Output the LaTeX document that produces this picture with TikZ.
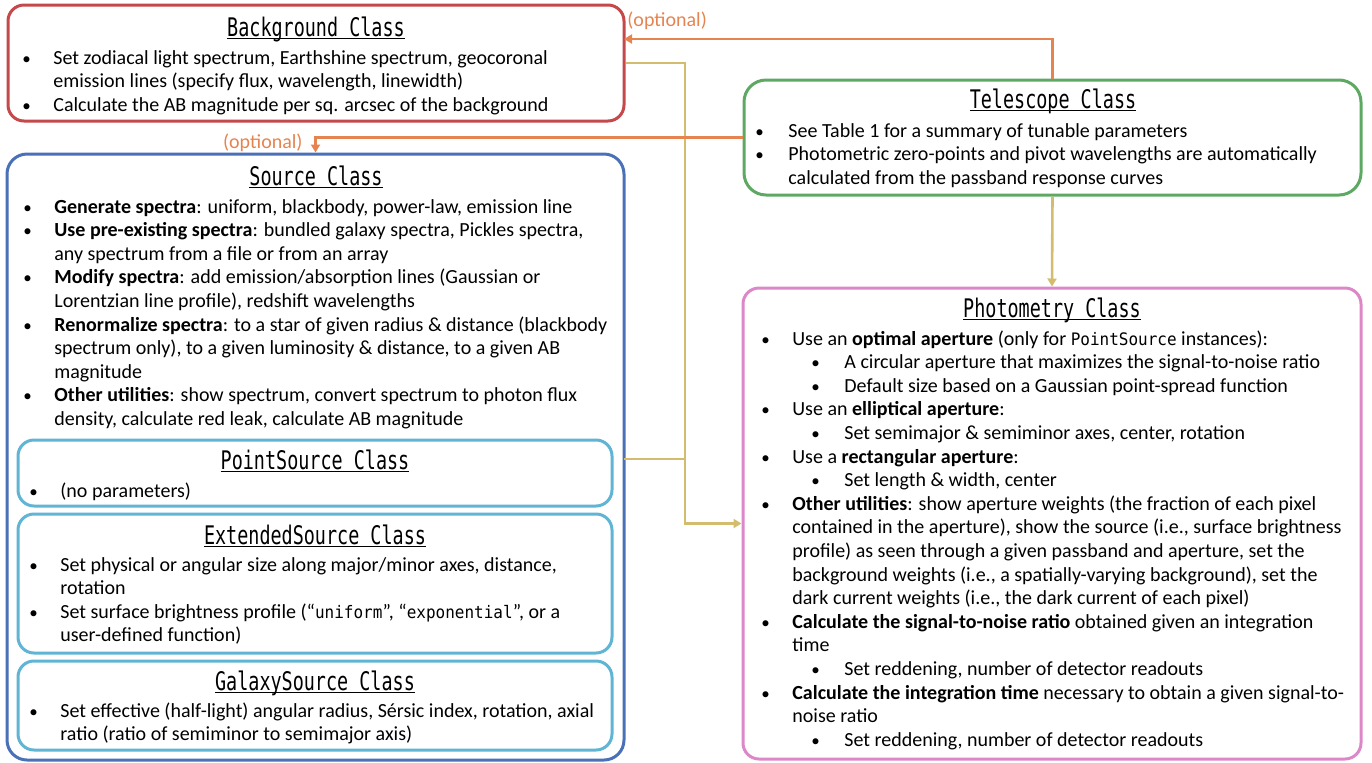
\documentclass[tikz,border=0pt]{standalone}
\usepackage{fontspec}
\usepackage{array}
\setmainfont{Carlito}
\setmonofont{DejaVu Sans Mono}[Scale=0.86,FakeStretch=0.93]
\newfontfamily\titlefont{DejaVu Sans Mono}[FakeStretch=0.72]
\usetikzlibrary{arrows.meta,fit}
\definecolor{bgred}{HTML}{C5484B}
\definecolor{telgreen}{HTML}{5DA963}
\definecolor{srcblue}{HTML}{4A70B8}
\definecolor{subblue}{HTML}{5FB5D3}
\definecolor{photpink}{HTML}{DC88C8}
\definecolor{optorange}{HTML}{E58450}
\definecolor{linkgold}{HTML}{D3BC6E}
\newcommand{\classname}[1]{\sbox0{\titlefont\fontsize{12.8}{14}\selectfont #1}\rlap{\rule[-1.6pt]{\wd0}{0.8pt}}\usebox0}
\newcommand{\bl}{{\fontsize{8.5}{8}\selectfont\textbullet}}
\begin{document}
\begin{tikzpicture}[x=0.5pt,y=-0.5pt,
  classbox/.style={draw, line width=1.5pt, rounded corners=8pt, inner sep=0pt, fill=white},
  titletext/.style={anchor=base, inner sep=0pt},
  listtext/.style={anchor=base west, inner sep=0pt, font=\fontsize{10}{11.8}\selectfont},
  optline/.style={draw=optorange, line width=1.2pt, -{Triangle[length=4pt,width=4.5pt]}},
  optlabel/.style={text=optorange, inner sep=0pt, font=\fontsize{10}{11.8}\selectfont},
  linkline/.style={draw=linkgold, line width=1.3pt},
  linkarrow/.style={linkline, -{Triangle[length=4pt,width=4.5pt]}}]
  \useasboundingbox (0,0) rectangle (1372,762);

  \node (bg) [classbox, draw=bgred, fit={(8,5) (624,121)}] {};
  \node (tel) [classbox, draw=telgreen, rounded corners=11pt, fit={(744,80) (1361,195)}] {};
  \node (src) [classbox, draw=srcblue, rounded corners=10pt, fit={(7,154) (624,760)}] {};
  \node (pts) [classbox, draw=subblue, fit={(18,440) (612,506)}] {};
  \node (ext) [classbox, draw=subblue, fit={(18,514) (612,653)}] {};
  \node (gal) [classbox, draw=subblue, fit={(18,661) (612,750)}] {};
  \node (phot) [classbox, draw=photpink, fit={(743,288) (1361,759)}] {};

  \node (bgtitle) [titletext] at (316,36) {\classname{Background Class}};
  \node (teltitle) [titletext] at (1053,108) {\classname{Telescope Class}};
  \node (srctitle) [titletext] at (316,185) {\classname{Source Class}};
  \node (ptstitle) [titletext] at (315,469) {\classname{PointSource Class}};
  \node (exttitle) [titletext] at (315,544) {\classname{ExtendedSource Class}};
  \node (galtitle) [titletext] at (315,690) {\classname{GalaxySource Class}};
  \node (phottitle) [titletext] at (1052,317) {\classname{Photometry Class}};

  \node (bglist) [listtext] at (22,64) {\begin{tabular}[t]{@{}w{l}{15.5pt}@{}l@{}}
    \bl & Set zodiacal light spectrum, Earthshine spectrum, geocoronal\\
        & emission lines (specify flux, wavelength, linewidth)\\
    \bl & Calculate the AB magnitude per sq. arcsec of the background
  \end{tabular}};
  \node (tellist) [listtext] at (755,137) {\begin{tabular}[t]{@{}w{l}{16.5pt}@{}l@{}}
    \bl & See Table 1 for a summary of tunable parameters\\
    \bl & Photometric zero-points and pivot wavelengths are automatically\\
        & calculated from the passband response curves
  \end{tabular}};
  \node (srclist) [listtext] at (23,213) {\begin{tabular}[t]{@{}w{l}{15.5pt}@{}l@{}}
    \bl & \textbf{Generate spectra}: uniform, blackbody, power-law, emission line\\
    \bl & \textbf{Use pre-existing spectra}: bundled galaxy spectra, Pickles spectra,\\
        & any spectrum from a file or from an array\\
    \bl & \textbf{Modify spectra}: add emission/absorption lines (Gaussian or\\
        & Lorentzian line profile), redshift wavelengths\\
    \bl & \textbf{Renormalize spectra}: to a star of given radius \& distance (blackbody\\
        & spectrum only), to a given luminosity \& distance, to a given AB\\
        & magnitude\\
    \bl & \textbf{Other utilities}: show spectrum, convert spectrum to photon flux\\
        & density, calculate red leak, calculate AB magnitude
  \end{tabular}};
  \node (ptslist) [listtext] at (29,497) {\begin{tabular}[t]{@{}w{l}{15.5pt}@{}l@{}}
    \bl & (no parameters)
  \end{tabular}};
  \node (extlist) [listtext] at (29,571) {\begin{tabular}[t]{@{}w{l}{15.5pt}@{}l@{}}
    \bl & Set physical or angular size along major/minor axes, distance,\\
        & rotation\\
    \bl & Set surface brightness profile (“\texttt{uniform}”, “\texttt{exponential}”, or a\\
        & user-defined function)
  \end{tabular}};
  \node (gallist) [listtext] at (29,717) {\begin{tabular}[t]{@{}w{l}{15.5pt}@{}l@{}}
    \bl & Set effective (half-light) angular radius, Sérsic index, rotation, axial\\
        & ratio (ratio of semiminor to semimajor axis)
  \end{tabular}};
  \node (photlist) [listtext] at (761,345) {\begin{tabular}[t]{@{}w{l}{15.5pt}@{}w{l}{9.5pt}@{}w{l}{16.5pt}@{}l@{}}
    \bl & \multicolumn{3}{@{}l@{}}{Use an \textbf{optimal aperture} (only for \texttt{PointSource} instances):}\\
        & & \bl & A circular aperture that maximizes the signal-to-noise ratio\\
        & & \bl & Default size based on a Gaussian point-spread function\\
    \bl & \multicolumn{3}{@{}l@{}}{Use an \textbf{elliptical aperture}:}\\
        & & \bl & Set semimajor \& semiminor axes, center, rotation\\
    \bl & \multicolumn{3}{@{}l@{}}{Use a \textbf{rectangular aperture}:}\\
        & & \bl & Set length \& width, center\\
    \bl & \multicolumn{3}{@{}l@{}}{\textbf{Other utilities}: show aperture weights (the fraction of each pixel}\\
        & \multicolumn{3}{@{}l@{}}{contained in the aperture), show the source (i.e., surface brightness}\\
        & \multicolumn{3}{@{}l@{}}{profile) as seen through a given passband and aperture, set the}\\
        & \multicolumn{3}{@{}l@{}}{background weights (i.e., a spatially-varying background), set the}\\
        & \multicolumn{3}{@{}l@{}}{dark current weights (i.e., the dark current of each pixel)}\\
    \bl & \multicolumn{3}{@{}l@{}}{\textbf{Calculate the signal-to-noise ratio} obtained given an integration}\\
        & \multicolumn{3}{@{}l@{}}{time}\\
        & & \bl & Set reddening, number of detector readouts\\
    \bl & \multicolumn{3}{@{}l@{}}{\textbf{Calculate the integration time} necessary to obtain a given signal-to-}\\
        & \multicolumn{3}{@{}l@{}}{noise ratio}\\
        & & \bl & Set reddening, number of detector readouts
  \end{tabular}};

  \coordinate (bgin) at (624,39);
  \coordinate (srcout) at (624,459);
  \coordinate (bus) at (685,459);
  \draw[linkarrow] (bg.east) -| (bus) |- (phot.west);
  \draw[linkline] (srcout) -- (bus);
  \draw[linkarrow] (tel.south) -- (phot.north);
  \draw[optline] (tel.north) |- (bgin);
  \draw[optline] (tel.west) -| (src.north);
  \node (opttop) [optlabel, anchor=base west] at (627,26) {(optional)};
  \node (optmid) [optlabel, anchor=base east] at (303,148) {(optional)};
\end{tikzpicture}
\end{document}
